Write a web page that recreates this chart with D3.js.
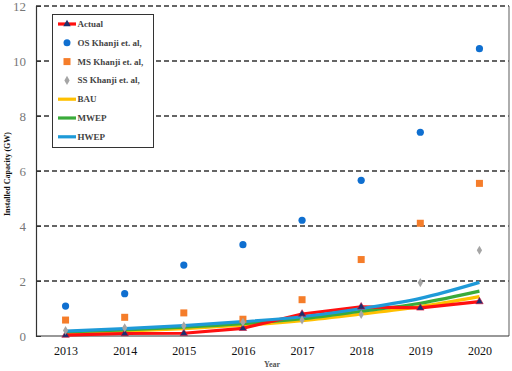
<!DOCTYPE html>
<html><head><meta charset="utf-8">
<script src="https://cdn.jsdelivr.net/npm/d3@7"></script>
<style>body{margin:0;background:#fff}svg{display:block;font-family:"Liberation Serif","Times New Roman",serif}</style>
</head><body><svg id="c" width="512" height="371"></svg>
<script>
const years = ["2013","2014","2015","2016","2017","2018","2019","2020"];
const actual = [0.03,0.09,0.1,0.28,0.8,1.06,1.02,1.25];
const osKhanji = [1.09,1.54,2.58,3.32,4.21,5.66,7.41,10.45];
const msKhanji = [0.58,0.68,0.84,0.61,1.32,2.78,4.10,5.55];
const ssKhanji = [0.2,0.3,0.37,0.5,0.58,0.78,1.94,3.12];
const bau = [0.12,0.18,0.27,0.39,0.56,0.8,1.07,1.43];
const mwep = [0.15,0.22,0.32,0.45,0.63,0.9,1.19,1.63];
const hwep = [0.18,0.27,0.38,0.52,0.7,1.0,1.37,1.95];
const yTicks = [0,2,4,6,8,10,12];

const svg = d3.select("#c");
const L=36,R=509,T=6,B=336;
const x = d3.scalePoint().domain(years).range([L,R]).padding(0.5);
const y = d3.scaleLinear().domain([0,12]).range([B,T]);

svg.append("g").selectAll("line").data(yTicks.filter(d=>d>0)).join("line")
  .attr("x1",L).attr("x2",R).attr("y1",d=>y(d)).attr("y2",d=>y(d))
  .attr("stroke","#333").attr("stroke-width",1.3).attr("stroke-dasharray","5,3");
svg.append("line").attr("x1",R).attr("x2",R).attr("y1",T).attr("y2",B).attr("stroke","#777").attr("stroke-width",1.2);

const ya = svg.append("g").attr("transform",`translate(${L},0)`)
  .call(d3.axisLeft(y).tickValues(yTicks).tickSize(-5).tickPadding(10));
ya.select(".domain").attr("stroke","#333").attr("stroke-width",1.2);
ya.selectAll(".tick line").attr("stroke","#333");
ya.selectAll("text").attr("font-size",13).attr("fill","#777").attr("font-family","Liberation Serif");
const xa = svg.append("g").attr("transform",`translate(0,${B})`)
  .call(d3.axisBottom(x).tickSize(0).tickPadding(10));
xa.select(".domain").attr("stroke","#333").attr("stroke-width",1.2).attr("d",`M${L},0H${R}`);
xa.selectAll("text").attr("font-size",12).attr("fill","#111").attr("font-family","Liberation Serif");

svg.append("text").attr("x",272).attr("y",367).attr("text-anchor","middle")
  .attr("font-size",8).attr("font-weight","bold").attr("fill","#555").text("Year");
svg.append("text").attr("transform","translate(10,174) rotate(-90)").attr("text-anchor","middle")
  .attr("font-size",8).attr("font-weight","bold").attr("fill","#111").text("Installed Capacity (GW)");

const smooth = d3.line().x((d,i)=>x(years[i])).y(d=>y(d)).curve(d3.curveMonotoneX);
const straight = d3.line().x((d,i)=>x(years[i])).y(d=>y(d));
const series = [[bau,"#ffc000",smooth],[mwep,"#3aab3a",smooth],[actual,"#ff1010",straight],[hwep,"#1e9ad8",smooth]];
series.forEach(([s,c,gen])=>{
  svg.append("path").attr("d",gen(s)).attr("fill","none").attr("stroke",c).attr("stroke-width",3.2).attr("stroke-linejoin","round");
});
const tri = d3.symbol().type(d3.symbolTriangle).size(24);
svg.append("g").selectAll("path").data(actual).join("path")
  .attr("d",tri).attr("transform",(d,i)=>`translate(${x(years[i])},${y(d)})`).attr("fill","#1c2f6e").attr("stroke","#d0103a").attr("stroke-width",0.6);

svg.append("g").selectAll("circle").data(osKhanji).join("circle")
  .attr("cx",(d,i)=>x(years[i])).attr("cy",d=>y(d)).attr("r",3.6).attr("fill","#0f6fd0");
svg.append("g").selectAll("rect").data(msKhanji).join("rect")
  .attr("x",(d,i)=>x(years[i])-3.5).attr("y",d=>y(d)-3.5).attr("width",7).attr("height",7).attr("fill","#f57d2a");
const dia = d3.symbol().type(d3.symbolDiamond).size(24);
svg.append("g").selectAll("path").data(ssKhanji).join("path")
  .attr("d",dia).attr("transform",(d,i)=>`translate(${x(years[i])},${y(d)})`).attr("fill","#a5a5a5");

const lg = svg.append("g");
lg.append("rect").attr("x",52.5).attr("y",14.5).attr("width",101).attr("height",133).attr("fill","#fff").attr("stroke","#333").attr("stroke-width",1);
const items = [
  {n:"Actual",t:"actual",c:"#ff1010"},
  {n:"OS Khanji et. al,",t:"circle",c:"#0f6fd0"},
  {n:"MS Khanji et. al,",t:"square",c:"#f57d2a"},
  {n:"SS Khanji et. al,",t:"diamond",c:"#a5a5a5"},
  {n:"BAU",t:"line",c:"#ffc000"},
  {n:"MWEP",t:"line",c:"#3aab3a"},
  {n:"HWEP",t:"line",c:"#1e9ad8"}];
items.forEach((it,i)=>{
  const yy = 24 + i*18.8;
  const g = lg.append("g");
  if(it.t==="line"||it.t==="actual"){
    g.append("line").attr("x1",58).attr("x2",76).attr("y1",yy).attr("y2",yy).attr("stroke",it.c).attr("stroke-width",3.2);
    if(it.t==="actual") g.append("path").attr("d",tri).attr("transform",`translate(67,${yy})`).attr("fill","#1c2f6e");
  } else if(it.t==="circle"){
    g.append("circle").attr("cx",67).attr("cy",yy).attr("r",3.5).attr("fill",it.c);
  } else if(it.t==="square"){
    g.append("rect").attr("x",63.5).attr("y",yy-3.5).attr("width",7).attr("height",7).attr("fill",it.c);
  } else {
    g.append("path").attr("d",dia).attr("transform",`translate(67,${yy})`).attr("fill",it.c);
  }
  g.append("text").attr("x",77.5).attr("y",yy+3).attr("font-size",9).attr("font-weight","bold").attr("fill","#444").text(it.n);
});
</script></body></html>
